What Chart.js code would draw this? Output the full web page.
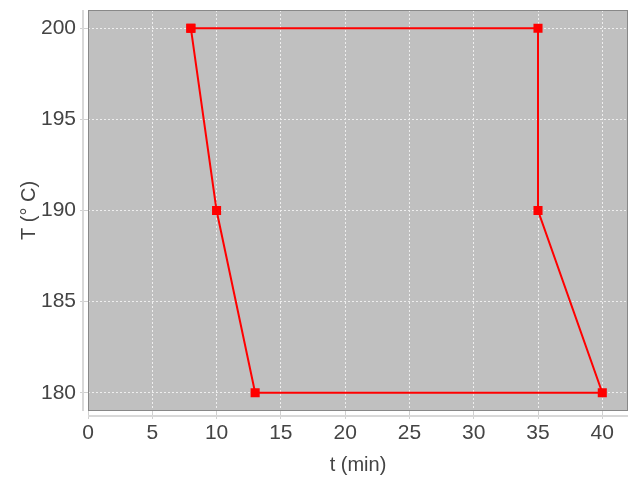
<!DOCTYPE html>
<html>
<head>
<meta charset="utf-8">
<script src="https://cdn.jsdelivr.net/npm/chart.js@4"></script>
<style>
  html, body { margin: 0; padding: 0; background: #fff; }
  #wrap { width: 640px; height: 480px; }
</style>
</head>
<body>
<div id="wrap"><canvas id="chart" width="640" height="480"></canvas></div>
<script>
// data
var tValues = [8, 35, 35, 40, 13, 10, 8];
var TValues = [200, 200, 190, 180, 180, 190, 200];
var xTicks = [0, 5, 10, 15, 20, 25, 30, 35, 40];
var yTicks = [180, 185, 190, 195, 200];

var points = tValues.map(function (t, i) { return { x: t, y: TValues[i] }; });

// gray plot background + border + offset axis lines
var plotBg = {
  id: 'plotBg',
  beforeDraw: function (chart) {
    var a = chart.chartArea, c = chart.ctx;
    c.save();
    c.fillStyle = '#c0c0c0';
    c.fillRect(a.left, a.top, a.right - a.left, a.bottom - a.top);
    c.restore();
  },
  afterDraw: function (chart) {
    var a = chart.chartArea, c = chart.ctx;
    c.save();
    c.strokeStyle = '#888';
    c.lineWidth = 1;
    c.strokeRect(a.left + 0.5, a.top + 0.5, a.right - a.left - 1, a.bottom - a.top - 1);
    c.strokeStyle = '#d8d8d8';
    c.lineWidth = 2;
    c.beginPath();
    c.moveTo(a.left - 5, a.top);
    c.lineTo(a.left - 5, a.bottom);
    c.moveTo(a.left, a.bottom + 5);
    c.lineTo(a.right, a.bottom + 5);
    c.stroke();
    c.restore();
  }
};

var tickFont = { family: 'Liberation Sans, Arial, sans-serif', size: 21 };
var titleFont = { family: 'Liberation Sans, Arial, sans-serif', size: 20 };

new Chart(document.getElementById('chart').getContext('2d'), {
  type: 'scatter',
  data: {
    datasets: [{
      data: points,
      showLine: true,
      borderColor: '#ff0000',
      backgroundColor: '#ff0000',
      borderWidth: 2,
      pointStyle: 'rect',
      pointRadius: 5,
      pointHoverRadius: 5,
      tension: 0
    }]
  },
  options: {
    responsive: false,
    animation: false,
    layout: { padding: { top: 10, right: 12, left: 0, bottom: 0 } },
    plugins: { legend: { display: false }, tooltip: { enabled: false } },
    scales: {
      x: {
        type: 'linear',
        min: 0,
        max: 42,
        afterBuildTicks: function (s) { s.ticks = xTicks.map(function (v) { return { value: v }; }); },
        afterFit: function (s) { s.height = 69; s.paddingLeft = 0; s.paddingRight = 0; },
        border: { display: false, dash: [2, 2] },
        grid: {
          color: '#eeeeee',
          tickColor: '#d0d0d0',
          tickBorderDash: [],
          tickLength: 8,
          lineWidth: 1
        },
        ticks: { color: '#444', font: tickFont, padding: 2, maxRotation: 0 },
        title: { display: true, text: 't (min)', color: '#444', font: titleFont, padding: { top: 0, bottom: 3 } }
      },
      y: {
        type: 'linear',
        min: 179,
        max: 201,
        afterBuildTicks: function (s) { s.ticks = yTicks.map(function (v) { return { value: v }; }); },
        afterFit: function (s) { s.width = 88; s.paddingTop = 0; s.paddingBottom = 0; },
        border: { display: false, dash: [2, 2] },
        grid: {
          color: '#eeeeee',
          tickColor: '#d0d0d0',
          tickBorderDash: [],
          tickLength: 8,
          lineWidth: 1
        },
        ticks: { color: '#444', font: tickFont, padding: 4 },
        title: { display: true, text: 'T (° C)', color: '#444', font: titleFont, padding: { top: 17, bottom: 0 } }
      }
    }
  },
  plugins: [plotBg]
});
</script>
</body>
</html>
